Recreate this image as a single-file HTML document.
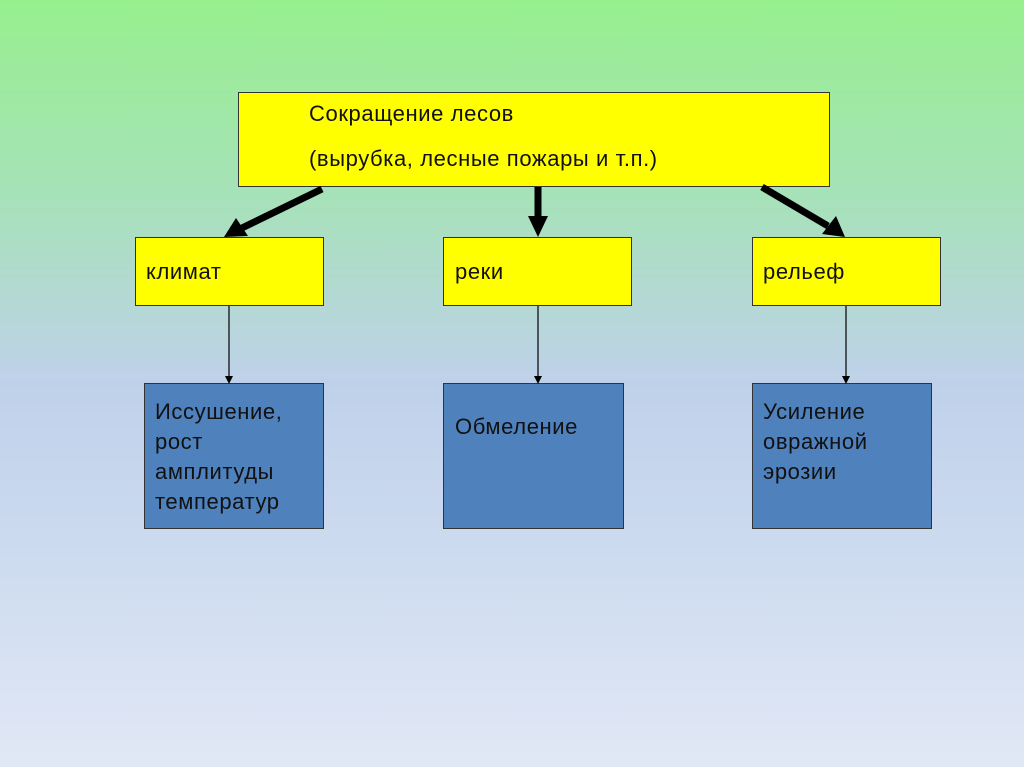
<!DOCTYPE html>
<html><head><meta charset="utf-8"><style>
html,body{margin:0;padding:0}
body{width:1024px;height:767px;position:relative;overflow:hidden;
background:linear-gradient(to bottom,#97f08e 0%,#a6e2b8 25%,#bfd1ea 50%,#cfdcf0 75%,#e1e8f5 100%);
font-family:"Liberation Sans",sans-serif;color:#111}
.b{position:absolute;box-sizing:border-box;border:1px solid #333}
.y{background:#ffff00}
.bl{background:#4f81bd}
.t{position:absolute;font-size:22px;line-height:30px;letter-spacing:0.6px;white-space:nowrap}
</style></head><body>
<div class="b y" style="left:238px;top:92px;width:592px;height:95px"></div>
<div class="t" style="left:309px;top:99px">Сокращение лесов</div>
<div class="t" style="left:309px;top:144px">(вырубка, лесные пожары и т.п.)</div>

<div class="b y" style="left:135px;top:237px;width:189px;height:69px"></div>
<div class="b y" style="left:443px;top:237px;width:189px;height:69px"></div>
<div class="b y" style="left:752px;top:237px;width:189px;height:69px"></div>
<div class="t" style="left:146px;top:257px">климат</div>
<div class="t" style="left:455px;top:257px">реки</div>
<div class="t" style="left:763px;top:257px">рельеф</div>

<div class="b bl" style="left:144px;top:383px;width:180px;height:146px"></div>
<div class="b bl" style="left:443px;top:383px;width:181px;height:146px"></div>
<div class="b bl" style="left:752px;top:383px;width:180px;height:146px"></div>
<div class="t" style="left:155px;top:397px">Иссушение,<br>рост<br>амплитуды<br>температур</div>
<div class="t" style="left:455px;top:412px">Обмеление</div>
<div class="t" style="left:763px;top:397px">Усиление<br>овражной<br>эрозии</div>

<svg width="1024" height="767" style="position:absolute;left:0;top:0">
<g stroke="#000" stroke-width="7" fill="none">
<line x1="322" y1="189" x2="242" y2="228"/>
<line x1="538" y1="187" x2="538" y2="218"/>
<line x1="762" y1="187" x2="828" y2="226"/>
</g>
<polygon points="224,237 236,218 248,236" fill="#000"/>
<polygon points="528,216 548,216 538,237" fill="#000"/>
<polygon points="845,237 822,234 836,216" fill="#000"/>
<g stroke="#000" stroke-width="1.2">
<line x1="229" y1="306" x2="229" y2="378"/>
<line x1="538" y1="306" x2="538" y2="378"/>
<line x1="846" y1="306" x2="846" y2="378"/>
</g>
<polygon points="225,376 233,376 229,384" fill="#000"/>
<polygon points="534,376 542,376 538,384" fill="#000"/>
<polygon points="842,376 850,376 846,384" fill="#000"/>
</svg>
</body></html>
